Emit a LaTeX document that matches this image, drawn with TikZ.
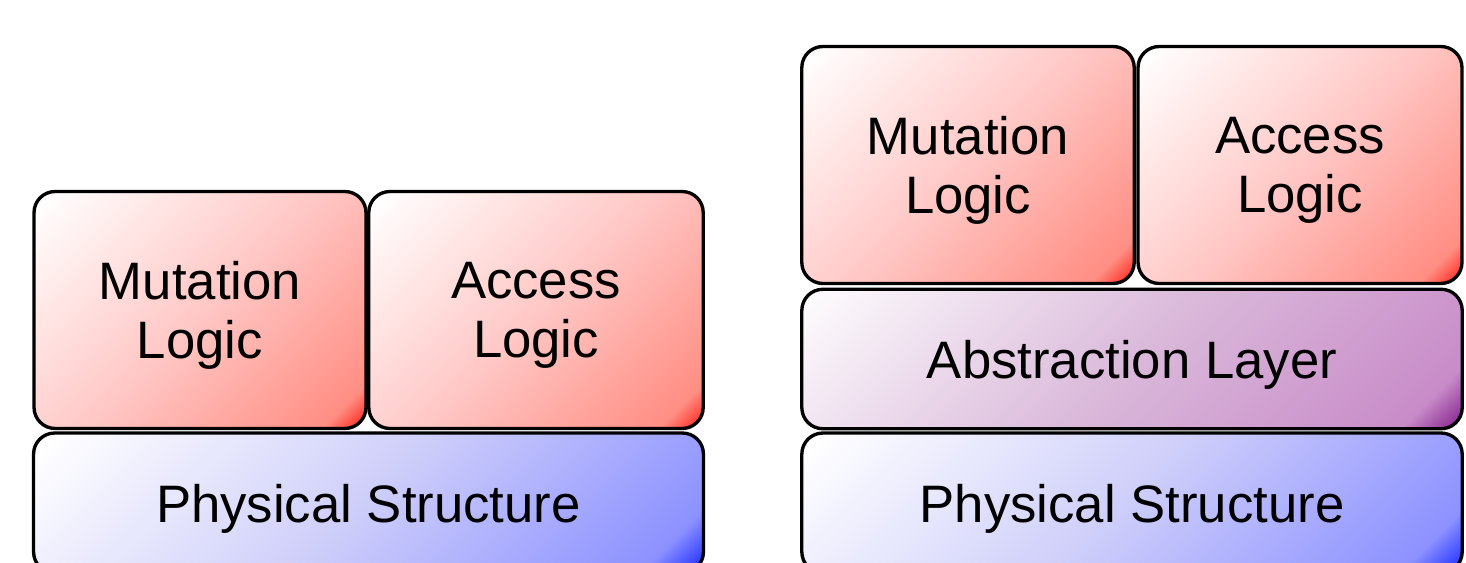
\documentclass[tikz,border=0pt]{standalone}
\usepackage{fontspec}
\setmainfont{Liberation Sans}
\usetikzlibrary{positioning}

\definecolor{redMid}{RGB}{255,200,198}
\definecolor{redLow}{RGB}{255,142,132}
\definecolor{redTip}{RGB}{255,35,25}
\definecolor{blueMid}{RGB}{205,205,250}
\definecolor{blueLow}{RGB}{140,145,255}
\definecolor{blueTip}{RGB}{30,45,255}
\definecolor{purpMid}{RGB}{218,185,218}
\definecolor{purpLow}{RGB}{200,140,200}
\definecolor{purpTip}{RGB}{135,35,145}

\pgfdeclarehorizontalshading{redfade}{100bp}{color(0bp)=(white); color(16bp)=(white); color(50bp)=(redMid); color(80bp)=(redLow); color(85bp)=(redTip); color(100bp)=(redTip)}
\pgfdeclarehorizontalshading{bluefade}{100bp}{color(0bp)=(white); color(16bp)=(white); color(50bp)=(blueMid); color(80bp)=(blueLow); color(85bp)=(blueTip); color(100bp)=(blueTip)}
\pgfdeclarehorizontalshading{purpfade}{100bp}{color(0bp)=(white); color(16bp)=(white!94!purpMid); color(50bp)=(purpMid); color(80bp)=(purpLow); color(85bp)=(purpTip); color(100bp)=(purpTip)}

\tikzset{
  layer/.style={draw=black, line width=1.9pt, rounded corners=12pt, inner sep=0pt,
    align=center, text depth=0pt, font=\fontsize{30}{34}\selectfont, shading angle=-45},
  logicbox/.style={layer, shading=redfade, minimum height=4.74cm},
  physbox/.style={layer, shading=bluefade, minimum height=2.8cm},
  absbox/.style={layer, shading=purpfade, minimum height=2.79cm}
}

\begin{document}
\begin{tikzpicture}[x=0.02cm, y=-0.02cm]
    \clip (0,0) rectangle (1466,563);% page size

    % stack without abstraction
    \node[logicbox, minimum width=6.64cm] (MutLeft) at (200,310) {Mutation\\Logic};
    \node[logicbox, minimum width=6.69cm] (AccLeft) at (536,310) {Access\\Logic};
    \node[physbox, minimum width=13.4cm] (PhysLeft) at (368.5,503) {Physical Structure};

    % stack with abstraction layer
    \node[logicbox, minimum width=6.65cm] (MutRight) at (968,165) {Mutation\\Logic};
    \node[logicbox, minimum width=6.48cm] (AccRight) at (1300,165) {Access\\Logic};
    \node[absbox, minimum width=13.21cm] (AbsRight) at (1132,359) {Abstraction Layer};
    \node[physbox, minimum width=13.21cm] (PhysRight) at (1132,503) {Physical Structure};

\end{tikzpicture}
\end{document}
